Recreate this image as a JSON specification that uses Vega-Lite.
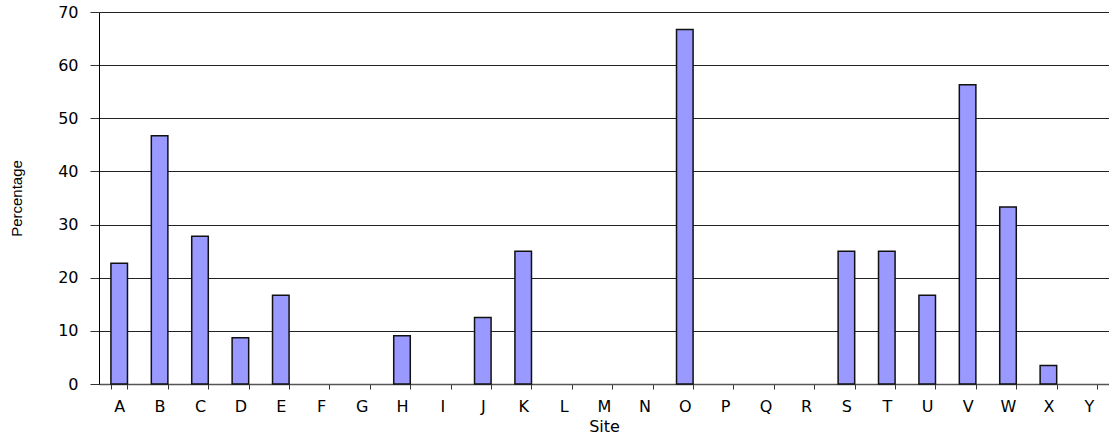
{
  "$schema": "https://vega.github.io/schema/vega-lite/v6.json",
  "autosize": "none",
  "padding": {"left": 99, "top": 12, "right": 0, "bottom": 63},
  "width": 1010,
  "height": 372,
  "background": "white",
  "config": {
    "view": {"stroke": null},
    "font": "DejaVu Sans"
  },
  "data": {
    "values": [
      {"Site": "A", "Percentage": 22.7},
      {"Site": "B", "Percentage": 46.7},
      {"Site": "C", "Percentage": 27.8},
      {"Site": "D", "Percentage": 8.7},
      {"Site": "E", "Percentage": 16.7},
      {"Site": "F", "Percentage": 0},
      {"Site": "G", "Percentage": 0},
      {"Site": "H", "Percentage": 9.1},
      {"Site": "I", "Percentage": 0},
      {"Site": "J", "Percentage": 12.5},
      {"Site": "K", "Percentage": 25},
      {"Site": "L", "Percentage": 0},
      {"Site": "M", "Percentage": 0},
      {"Site": "N", "Percentage": 0},
      {"Site": "O", "Percentage": 66.7},
      {"Site": "P", "Percentage": 0},
      {"Site": "Q", "Percentage": 0},
      {"Site": "R", "Percentage": 0},
      {"Site": "S", "Percentage": 25},
      {"Site": "T", "Percentage": 25},
      {"Site": "U", "Percentage": 16.7},
      {"Site": "V", "Percentage": 56.3},
      {"Site": "W", "Percentage": 33.3},
      {"Site": "X", "Percentage": 3.5},
      {"Site": "Y", "Percentage": 0}
    ]
  },
  "mark": {"type": "bar", "fill": "#9999FF", "stroke": "#111111", "strokeWidth": 1.5},
  "encoding": {
    "strokeOpacity": {"condition": {"test": "datum.Percentage === 0", "value": 0}, "value": 1},
    "x": {
      "field": "Site",
      "type": "nominal",
      "sort": null,
      "scale": {"paddingInner": 0.59, "paddingOuter": 0.295},
      "axis": {
        "title": "Site",
        "labelAngle": 0,
        "labelFont": "DejaVu Sans",
        "labelFontSize": 16,
        "labelColor": "#000000",
        "labelPadding": 9,
        "tickBand": "extent",
        "tickSize": 5,
        "tickColor": "#333333",
        "domainColor": "#555555",
        "domainWidth": 1.5,
        "grid": false,
        "titleFont": "DejaVu Sans",
        "titleFontSize": 16,
        "titleFontWeight": "normal",
        "titleColor": "#000000",
        "titlePadding": 4
      }
    },
    "y": {
      "field": "Percentage",
      "type": "quantitative",
      "scale": {"domain": [0, 70]},
      "axis": {
        "title": "Percentage",
        "values": [0, 10, 20, 30, 40, 50, 60, 70],
        "labelFont": "DejaVu Sans",
        "labelFontSize": 16,
        "labelColor": "#000000",
        "labelPadding": 12,
        "tickSize": 9,
        "tickColor": "#333333",
        "domainColor": "#000000",
        "grid": true,
        "gridColor": "#222222",
        "gridWidth": 1,
        "gridOpacity": 1,
        "titleFont": "Liberation Sans",
        "titleFontSize": 15,
        "titleFontWeight": "normal",
        "titleColor": "#000000",
        "titleX": -83,
        "titleY": 186,
        "titleAngle": -90,
        "titleAlign": "center",
        "titleBaseline": "middle"
      }
    }
  }
}
